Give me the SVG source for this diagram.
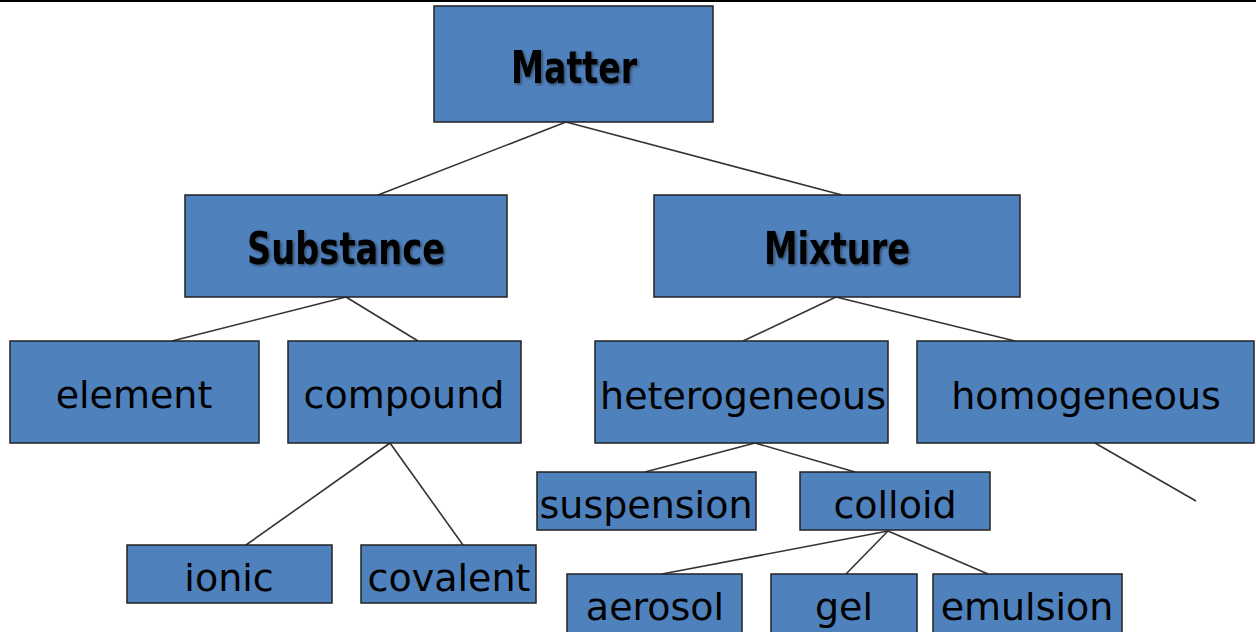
<svg xmlns="http://www.w3.org/2000/svg" width="1256" height="632" viewBox="0 0 1256 632">
<defs>
<filter id="sh" x="-10%" y="-20%" width="130%" height="150%">
<feDropShadow dx="1.5" dy="1.5" stdDeviation="1" flood-color="#1a1a1a" flood-opacity="0.6"/>
</filter>
</defs>
<style>
.box{fill:#4F81BD;stroke:#222;stroke-width:1.5}
.t{font-family:"DejaVu Sans","Verdana",sans-serif;font-size:38px;fill:#000;text-anchor:middle}
.b{font-family:"DejaVu Sans","Verdana",sans-serif;font-size:44px;font-weight:bold;fill:#000;text-anchor:middle;filter:url(#sh)}
.c{stroke:#333;stroke-width:1.6;fill:none}
</style>
<rect width="1256" height="632" fill="#fff"/>
<line x1="0" y1="1" x2="1256" y2="1" stroke="#000" stroke-width="2"/>
<g id="connectors">
<line class="c" x1="566" y1="122" x2="378" y2="195"/>
<line class="c" x1="566" y1="122" x2="842" y2="195"/>
<line class="c" x1="346" y1="297" x2="172" y2="341"/>
<line class="c" x1="346" y1="297" x2="418" y2="341"/>
<line class="c" x1="836" y1="297" x2="743" y2="341"/>
<line class="c" x1="836" y1="297" x2="1015" y2="341"/>
<line class="c" x1="390" y1="443" x2="246" y2="545"/>
<line class="c" x1="390" y1="443" x2="463" y2="545"/>
<line class="c" x1="755" y1="443" x2="645" y2="472"/>
<line class="c" x1="755" y1="443" x2="855" y2="472"/>
<line class="c" x1="1095" y1="443" x2="1196" y2="501"/>
<line class="c" x1="888" y1="531" x2="662" y2="574"/>
<line class="c" x1="888" y1="531" x2="846" y2="574"/>
<line class="c" x1="888" y1="531" x2="988" y2="574"/>
</g>
<g id="matter"><rect class="box" x="434" y="6" width="279" height="116"/><text class="b" x="574" y="83" textLength="126" lengthAdjust="spacingAndGlyphs">Matter</text></g>
<g id="substance"><rect class="box" x="185" y="195" width="322" height="102"/><text class="b" x="346" y="264" textLength="198" lengthAdjust="spacingAndGlyphs">Substance</text></g>
<g id="mixture"><rect class="box" x="654" y="195" width="366" height="102"/><text class="b" x="837" y="264" textLength="146" lengthAdjust="spacingAndGlyphs">Mixture</text></g>
<g id="element"><rect class="box" x="10" y="341" width="249" height="102"/><text class="t" x="134" y="408">element</text></g>
<g id="compound"><rect class="box" x="288" y="341" width="233" height="102"/><text class="t" x="404" y="408">compound</text></g>
<g id="heterogeneous"><rect class="box" x="595" y="341" width="293" height="102"/><text class="t" x="743" y="409">heterogeneous</text></g>
<g id="homogeneous"><rect class="box" x="917" y="341" width="337" height="102"/><text class="t" x="1086" y="409">homogeneous</text></g>
<g id="suspension"><rect class="box" x="537" y="472" width="219" height="58"/><text class="t" x="646" y="518">suspension</text></g>
<g id="colloid"><rect class="box" x="800" y="472" width="190" height="58"/><text class="t" x="895" y="518">colloid</text></g>
<g id="ionic"><rect class="box" x="127" y="545" width="205" height="58"/><text class="t" x="229" y="591">ionic</text></g>
<g id="covalent"><rect class="box" x="361" y="545" width="175" height="58"/><text class="t" x="449" y="591">covalent</text></g>
<g id="aerosol"><rect class="box" x="567" y="574" width="175" height="60"/><text class="t" x="655" y="620">aerosol</text></g>
<g id="gel"><rect class="box" x="771" y="574" width="146" height="60"/><text class="t" x="844" y="620">gel</text></g>
<g id="emulsion"><rect class="box" x="933" y="574" width="189" height="60"/><text class="t" x="1027" y="620">emulsion</text></g>
</svg>
